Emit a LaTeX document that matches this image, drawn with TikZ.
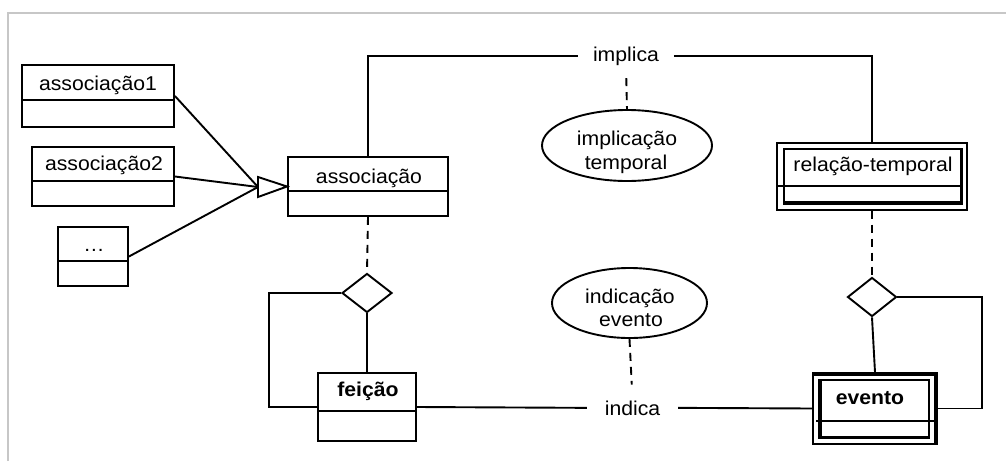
\documentclass[tikz,border=0pt]{standalone}
\usepackage{fontspec}
\setmainfont{Liberation Sans}[FakeStretch=1.06]
\usetikzlibrary{shapes.geometric,calc}
\begin{document}
\begin{tikzpicture}[x=1pt,y=-1pt,line width=1.9pt,
  every node/.style={font=\fontsize{20}{23.5}\selectfont},
  cls/.style={draw,rectangle,inner sep=0pt},
  txt/.style={anchor=base,inner sep=0pt},
  lbl/.style={anchor=base,inner ysep=0pt,inner xsep=15pt},
  dsh/.style={dash pattern=on 8pt off 6pt},
  dia/.style={draw,diamond,inner sep=0pt,minimum width=50pt,minimum height=39pt},
  ell/.style={draw,ellipse,inner sep=0pt},
  frame/.style={draw=black!22,line width=2pt}]
\useasboundingbox (0,0) rectangle (1006,461);
\draw[frame] (7.5,461) -- (7.5,12.5) -- (1006,12.5);

% class boxes
\node[cls,minimum width=152pt,minimum height=62pt] (a1) at (98,96) {};
\draw (a1.west |- 0,100) -- (a1.east |- 0,100);
\node[txt] (a1t) at (98,90.7) {associação1};

\node[cls,minimum width=142pt,minimum height=59pt] (a2) at (103,176.5) {};
\draw (a2.west |- 0,181) -- (a2.east |- 0,181);
\node[txt] (a2t) at (104,170.7) {associação2};

\node[cls,minimum width=70pt,minimum height=59pt] (a3) at (93,256.5) {};
\draw (a3.west |- 0,261) -- (a3.east |- 0,261);
\node[txt] (a3t) at (94,251) {…};

\node[cls,minimum width=160pt,minimum height=59pt] (as) at (368,186.5) {};
\draw (as.west |- 0,191) -- (as.east |- 0,191);
\node[txt] (ast) at (369,183) {associação};

\node[cls,minimum width=98pt,minimum height=68pt] (fe) at (367,407) {};
\draw (fe.west |- 0,411) -- (fe.east |- 0,411);
\node[txt,font=\fontsize{20}{23.5}\selectfont\bfseries] (fet) at (368,396.7) {feição};

% relacao-temporal (double border)
\node[cls,line width=1.4pt,minimum width=190pt,minimum height=67pt] (rt) at (872,176.5) {};
\draw[line width=1.4pt] (784,149) rectangle (962,204);
\draw[line width=3.6pt] (784,203.2) -- (961.5,203.2) -- (961.5,149);
\draw[line width=1.6pt] (778,186) -- (962,186);
\node[txt] (rtt) at (873,171.7) {relação-temporal};

% evento (double border)
\node[cls,line width=1.4pt,minimum width=124pt,minimum height=71pt] (ev) at (875,408.5) {};
\draw[line width=3.2pt] (813,374.5) -- (935.5,374.5) -- (935.5,444);
\draw[line width=1.4pt] (819,380) rectangle (929,438);
\draw[line width=3.2pt] (820.2,380) -- (820.2,437.2) -- (929,437.2);
\draw[line width=1.6pt] (816,421) -- (934,421);
\node[txt,font=\fontsize{20}{23.5}\selectfont\bfseries] (evt) at (870,404.3) {evento};

% diamonds
\node[dia] (dl) at (367,293) {};
\node[dia,minimum width=49pt] (dr) at (872,297) {};

% ellipses
\node[ell,minimum width=170pt,minimum height=71pt] (e1) at (627,145.5) {};
\node[txt] (e1a) at (627,145.5) {implicação};
\node[txt] (e1b) at (626,169) {temporal};
\node[ell,minimum width=155pt,minimum height=70pt] (e2) at (629.5,303) {};
\node[txt] (e2a) at (630,303) {indicação};
\node[txt] (e2b) at (631,326.7) {evento};

% labels
\node[lbl,inner xsep=14pt] (im) at (626,61) {implica};
\node[lbl,inner xsep=17pt] (in) at (632.5,415) {indica};

% generalization
\coordinate (tb) at (258,187);
\draw (a1.east) -- (tb);
\draw (a2.east) -- (tb);
\draw (a3.east) -- (tb);
\draw[fill=white,line join=miter] ($(tb)+(0,-10)$) -- (as.west) -- ($(tb)+(0,10)$) -- cycle;

% implica
\draw (as.north) |- (im.west);
\draw (im.east) -| (rt.north);
\draw[dsh,shorten <=12pt] (im.south) -- (e1.north);

% indica
\draw (fe.east) -- (in.west);
\draw (in.east) -- (ev.west);
\draw[dsh,shorten >=15pt] (e2.south) -- (in.north);

% association diamonds
\draw[dsh] (as.south) -- (dl.north);
\draw (dl.south) -- (fe.north);
\draw (dl.west) -- ++(-72,0) |- (fe.west);
\draw[dsh] (rt.south) -- (dr.north);
\draw (dr.south) -- (ev.north);
\draw (dr.east) -- ++(84.5,0) |- (ev.east);
\end{tikzpicture}
\end{document}
